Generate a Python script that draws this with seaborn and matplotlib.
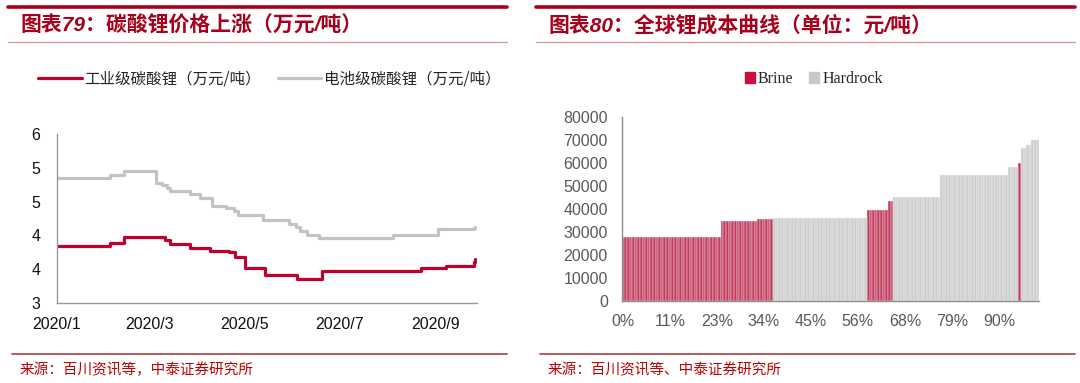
import numpy as np
import pandas as pd
import seaborn as sns
import matplotlib.pyplot as plt
from matplotlib.lines import Line2D
from matplotlib.patches import Patch

# --- left chart: lithium carbonate prices (step breakpoints, 万元/吨) ---
industrial_dates = ["2020-01-01", "2020-02-04", "2020-02-13", "2020-03-11", "2020-03-14",
                    "2020-03-27", "2020-04-09", "2020-04-21", "2020-04-25", "2020-05-01",
                    "2020-05-14", "2020-06-04", "2020-06-20", "2020-08-23", "2020-09-08",
                    "2020-09-26", "2020-09-27"]
industrial_price = [4.01, 4.07, 4.17, 4.11, 4.04,
                    3.98, 3.93, 3.90, 3.82, 3.63,
                    3.50, 3.43, 3.56, 3.62, 3.66,
                    3.72, 3.78]

battery_dates = ["2020-01-01", "2020-02-04", "2020-02-13", "2020-03-05", "2020-03-09",
                 "2020-03-12", "2020-03-14", "2020-03-27", "2020-04-02", "2020-04-10",
                 "2020-04-19", "2020-04-24", "2020-04-27", "2020-05-13", "2020-05-30",
                 "2020-06-03", "2020-06-06", "2020-06-10", "2020-06-18", "2020-08-05",
                 "2020-09-03", "2020-09-26", "2020-09-27"]
battery_price = [5.22, 5.28, 5.34, 5.13, 5.09,
                 5.04, 4.99, 4.93, 4.87, 4.72,
                 4.69, 4.63, 4.57, 4.47, 4.40,
                 4.35, 4.28, 4.21, 4.16, 4.21,
                 4.31, 4.33, 4.35]

series_names = ["工业级碳酸锂（万元/吨）", "电池级碳酸锂（万元/吨）"]
date_ticks = ["2020-01-01", "2020-03-01", "2020-05-01", "2020-07-01", "2020-09-01"]
date_labels = ["2020/1", "2020/3", "2020/5", "2020/7", "2020/9"]
price_ticks = [3.0, 3.6, 4.2, 4.8, 5.4, 6.0]

# --- right chart: global lithium cost curve (元/吨), segments of equal-cost bars ---
seg_cost = [27700, 35000, 35600, 36200, 39500, 43400, 45300, 54700, 58100, 60000, 66500, 67700, 70100]
seg_bars = [38, 14, 6, 36, 8, 2, 18, 26, 4, 1, 2, 2, 3]
seg_type = ["Brine", "Brine", "Brine", "Hardrock", "Brine", "Brine", "Hardrock",
            "Hardrock", "Hardrock", "Brine", "Hardrock", "Hardrock", "Hardrock"]
share_labels = ["0%", "11%", "23%", "34%", "45%", "56%", "68%", "79%", "90%"]
cost_ticks = [0, 10000, 20000, 30000, 40000, 50000, 60000, 70000, 80000]

RED = "#c0002f"
GRAY = "#c3c3c3"
TITLE_RED = "#a8001c"

sns.set_style("white")
plt.rcParams["font.family"] = ["Liberation Sans", "Noto Sans CJK SC"]

fig = plt.figure(figsize=(10.8, 3.83), dpi=100)
W, H = 1080, 383


def fx(px):
    return px / W


def fy(py):
    return 1 - py / H


# header / footer decorations
for x0, x1, title in [(8, 507, "图表79：碳酸锂价格上涨（万元/吨）"),
                      (536, 1075, "图表80：全球锂成本曲线（单位：元/吨）")]:
    fig.add_artist(Line2D([fx(x0), fx(x1)], [fy(7), fy(7)], color=TITLE_RED, lw=2.6))
    fig.add_artist(Line2D([fx(x0), fx(x1)], [fy(42), fy(42)], color="#dc9a9a", lw=1.0))
    fig.text(fx(x0 + 12), fy(25), title, color=TITLE_RED, fontsize=15, fontweight="bold",
             va="center", ha="left", family=["Liberation Sans", "Noto Sans CJK SC"], style="italic")

for x0, x1, src in [(12, 507, "来源：百川资讯等，中泰证券研究所"),
                    (540, 1075, "来源：百川资讯等、中泰证券研究所")]:
    fig.add_artist(Line2D([fx(x0), fx(x1)], [fy(354), fy(354)], color="#b04040", lw=1.2))
    fig.text(fx(x0 + 8), fy(370), src, color="#c00000", fontsize=10.5, va="center", ha="left",
             family=["Noto Sans CJK SC"])

# ---------------- left: price lines ----------------
ax1 = fig.add_axes([fx(57), fy(303), fx(420), 169 / H])
price_df = pd.concat([
    pd.DataFrame({"date": pd.to_datetime(industrial_dates), "price": industrial_price,
                  "series": series_names[0]}),
    pd.DataFrame({"date": pd.to_datetime(battery_dates), "price": battery_price,
                  "series": series_names[1]}),
])
sns.lineplot(data=price_df, x="date", y="price", hue="series", estimator=None,
             palette={series_names[0]: RED, series_names[1]: GRAY},
             drawstyle="steps-post", linewidth=2.3, legend=False, ax=ax1)
ax1.set_xlim(pd.Timestamp("2020-01-01"), pd.Timestamp("2020-09-28"))
ax1.set_ylim(3, 6)
ax1.set_yticks(price_ticks)
ax1.set_yticklabels([f"{v:.0f}" for v in price_ticks])
ax1.set_xticks(pd.to_datetime(date_ticks))
ax1.set_xticklabels(date_labels)
ax1.set_xlabel("")
ax1.set_ylabel("")
for side in ["top", "right"]:
    ax1.spines[side].set_visible(False)
for side in ["left", "bottom"]:
    ax1.spines[side].set_color("#9a9a9a")
    ax1.spines[side].set_linewidth(1.0)
ax1.tick_params(axis="both", which="major", length=4, width=1, color="#9a9a9a",
                labelsize=11.5, labelcolor="#111111", direction="out")
ax1.tick_params(axis="x", pad=6)
ax1.tick_params(axis="y", pad=8)

fig.legend(handles=[Line2D([], [], color=RED, lw=2.3), Line2D([], [], color=GRAY, lw=2.3)],
           labels=series_names, loc="center left", bbox_to_anchor=(fx(24), fy(79)),
           ncol=2, frameon=False, handlelength=2.8, handletextpad=0.15, columnspacing=1.1,
           prop={"family": ["Noto Sans CJK SC"], "size": 11.2})

# ---------------- right: cost curve ----------------
ax2 = fig.add_axes([fx(621.7), fy(301.3), fx(417.6), 184.6 / H])
cost_df = pd.DataFrame({
    "cost": np.repeat(seg_cost, seg_bars),
    "type": np.repeat(seg_type, seg_bars),
})
cost_df["idx"] = np.arange(len(cost_df))
sns.barplot(data=cost_df, x="idx", y="cost", hue="type", dodge=False, width=1.0,
            palette={"Brine": "#d82552", "Hardrock": "#cdcdcd"},
            edgecolor="#f4f4f4", linewidth=0.3, legend=False, ax=ax2)
n_bars = len(cost_df)
ax2.set_xlim(-0.5, n_bars - 0.5)
ax2.set_ylim(0, 80000)
ax2.set_yticks(cost_ticks)
ax2.set_yticklabels([str(v) for v in cost_ticks])
ax2.set_xticks(np.arange(0, n_bars, 18)[:len(share_labels)])
ax2.set_xticklabels(share_labels)
ax2.set_xticks([-0.5, 39.5, 79.5, 119.5, 159.5], minor=True)
ax2.set_xlabel("")
ax2.set_ylabel("")
for side in ["top", "right"]:
    ax2.spines[side].set_visible(False)
for side in ["left", "bottom"]:
    ax2.spines[side].set_color("#8c8c8c")
    ax2.spines[side].set_linewidth(1.0)
ax2.tick_params(axis="y", length=4, width=1, color="#8c8c8c", labelsize=11.5,
                labelcolor="#595959", direction="out", pad=6)
ax2.tick_params(axis="x", which="major", length=0, labelsize=11.5, labelcolor="#595959", pad=9)
ax2.tick_params(axis="x", which="minor", length=4, width=1, color="#8c8c8c", direction="out")

fig.legend(handles=[Patch(color="#c8103e"), Patch(color="#c8c8c8")], labels=["Brine", "Hardrock"],
           loc="center", bbox_to_anchor=(fx(814), fy(79)), ncol=2, frameon=False,
           handlelength=0.6, handleheight=0.7, handletextpad=0.2, columnspacing=1.0,
           prop={"family": "Liberation Serif", "size": 11.5})

fig.savefig("out.png", dpi=100)
